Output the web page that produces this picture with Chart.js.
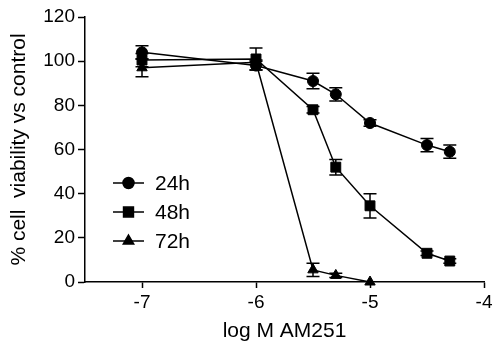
<!DOCTYPE html>
<html>
<head>
<meta charset="utf-8">
<script src="https://cdn.jsdelivr.net/npm/chart.js@4"></script>
<style>
  html, body { margin: 0; padding: 0; background: #fff; }
  #wrap { width: 496px; height: 352px; }
</style>
</head>
<body>
<div id="wrap"><canvas id="viabilityChart" width="496" height="352"></canvas></div>
<script>
// ===============================
// Data
// ===============================
const doses = [-7, -6, -5.5, -5.3, -5, -4.5, -4.3];
const doses72 = [-7, -6, -5.5, -5.3, -5];

const viability24 = [104, 98, 91, 85, 72, 62, 59];
const error24 = [3, 2, 3.5, 3, 1.5, 3, 3];

const viability48 = [100.5, 101, 78, 52, 34.5, 13, 9.5];
const error48 = [3, 5, 1.5, 3.5, 5.5, 1, 1];

const viability72 = [97, 99.5, 5.5, 3, 0];
const error72 = [4, 1, 3, 1, 0];

const seriesLabels = ["24h", "48h", "72h"];
const xTicks = [-7, -6, -5, -4];
const yTicks = [0, 20, 40, 60, 80, 100, 120];

const FONT = "'Liberation Sans', Arial, Helvetica, sans-serif";

// build {x, y, err} points for the library
function toPoints(xs, ys, errs) {
  return xs.map((x, i) => ({ x: x, y: ys[i], err: errs[i] }));
}

// ===============================
// Error bars (drawn through the scales)
// ===============================
const errorBars = {
  id: "errorBars",
  afterDatasetsDraw(chart) {
    const { ctx } = chart;
    const xScale = chart.scales.x;
    const yScale = chart.scales.y;
    const cap = 6.5;

    ctx.save();
    ctx.strokeStyle = "#000";
    ctx.lineWidth = 1.5;
    chart.data.datasets.forEach((ds) => {
      ds.data.forEach((pt) => {
        if (!pt.err) return;
        const px = xScale.getPixelForValue(pt.x);
        const top = yScale.getPixelForValue(pt.y + pt.err);
        const bottom = yScale.getPixelForValue(pt.y - pt.err);
        ctx.beginPath();
        ctx.moveTo(px, top);
        ctx.lineTo(px, bottom);
        ctx.moveTo(px - cap, top);
        ctx.lineTo(px + cap, top);
        ctx.moveTo(px - cap, bottom);
        ctx.lineTo(px + cap, bottom);
        ctx.stroke();
      });
    });
    ctx.restore();
  },
};

// ===============================
// Legend inside the plot area
// ===============================
const insideLegend = {
  id: "insideLegend",
  afterDraw(chart) {
    const { ctx } = chart;
    const area = chart.chartArea;

    ctx.save();
    chart.data.datasets.forEach((ds, i) => {
      const y = area.top + 166 + i * 29;
      const x0 = area.left + 28;

      ctx.strokeStyle = "#000";
      ctx.lineWidth = 1.5;
      ctx.beginPath();
      ctx.moveTo(x0, y);
      ctx.lineTo(x0 + 31, y);
      ctx.stroke();

      ctx.fillStyle = "#000";
      Chart.helpers.drawPoint(ctx, {
        pointStyle: ds.pointStyle,
        radius: ds.pointRadius,
        borderWidth: 1,
      }, x0 + 15.5, y);

      ctx.font = "21px " + FONT;
      ctx.textBaseline = "middle";
      ctx.textAlign = "left";
      ctx.fillText(ds.label, x0 + 42, y + 1);
    });
    ctx.restore();
  },
};

// ===============================
// Setup Chart
// ===============================
function makeDataset(label, points, style, radius) {
  return {
    label: label,
    data: points,
    borderColor: "#000",
    backgroundColor: "#000",
    borderWidth: 1.5,
    pointStyle: style,
    pointRadius: radius,
    pointHoverRadius: radius,
    pointBackgroundColor: "#000",
    pointBorderColor: "#000",
    pointBorderWidth: 1,
    tension: 0,
    fill: false,
    clip: false,
  };
}

const ctx = document.getElementById("viabilityChart").getContext("2d");

new Chart(ctx, {
  type: "line",
  data: {
    datasets: [
      makeDataset(seriesLabels[0], toPoints(doses, viability24, error24), "circle", 5.5),
      makeDataset(seriesLabels[1], toPoints(doses, viability48, error48), "rect", 7),
      makeDataset(seriesLabels[2], toPoints(doses72, viability72, error72), "triangle", 6),
    ],
  },
  options: {
    responsive: false,
    animation: false,
    layout: {
      padding: { top: 17, right: 12, bottom: 0, left: 0 },
    },
    plugins: {
      legend: { display: false },
      tooltip: { enabled: false },
    },
    scales: {
      x: {
        type: "linear",
        min: -7.5,
        max: -4,
        afterBuildTicks: (axis) => {
          axis.ticks = xTicks.map((v) => ({ value: v }));
        },
        afterFit: (axis) => {
          axis.height = 70;
        },
        border: { color: "#000", width: 1.5 },
        grid: {
          drawOnChartArea: false,
          drawTicks: true,
          tickLength: 6,
          tickColor: "#000",
          tickWidth: 1.5,
        },
        ticks: {
          color: "#000",
          padding: 3,
          maxRotation: 0,
          font: { family: FONT, size: 19 },
        },
        title: {
          display: true,
          text: "log M AM251",
          color: "#000",
          font: { family: FONT, size: 21 },
          padding: { top: 0, bottom: 8 },
        },
      },
      y: {
        min: 0,
        max: 120,
        afterBuildTicks: (axis) => {
          axis.ticks = yTicks.map((v) => ({ value: v }));
        },
        afterFit: (axis) => {
          axis.width = 85;
        },
        border: { color: "#000", width: 1.5 },
        grid: {
          drawOnChartArea: false,
          drawTicks: true,
          tickLength: 7,
          tickColor: "#000",
          tickWidth: 1.5,
        },
        ticks: {
          color: "#000",
          padding: 3,
          font: { family: FONT, size: 19 },
        },
        title: {
          display: true,
          text: "% cell  viability vs control",
          color: "#000",
          font: { family: FONT, size: 21 },
          padding: { top: 7, bottom: 0 },
        },
      },
    },
  },
  plugins: [errorBars, insideLegend],
});
</script>
</body>
</html>
